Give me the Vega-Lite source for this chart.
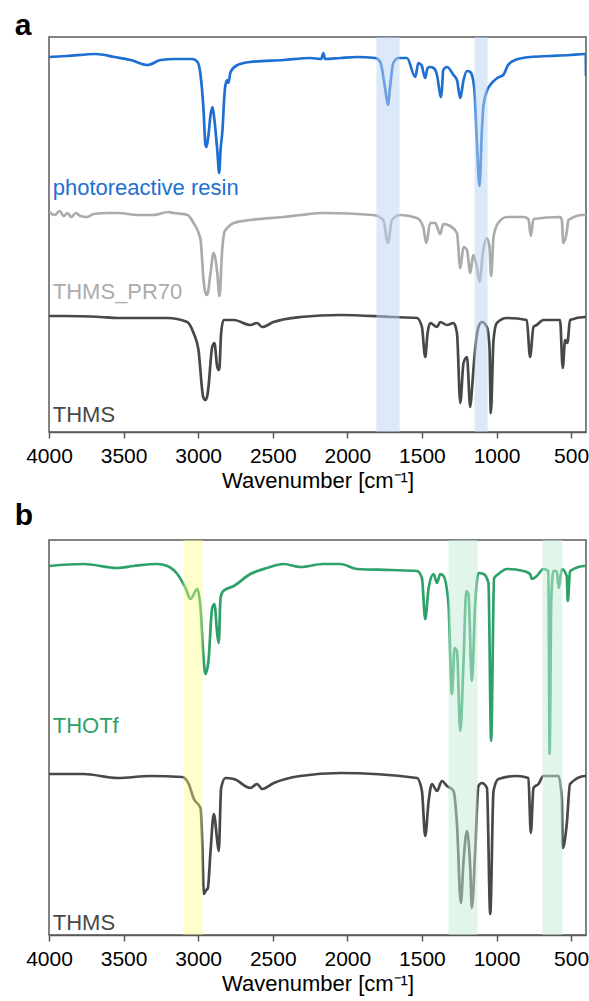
{
  "$schema": "https://vega.github.io/schema/vega-lite/v6.json",
  "background": "white",
  "padding": {"left": 13, "top": 10, "right": 3, "bottom": 5},
  "spacing": 8,
  "config": {
    "font": "Liberation Sans",
    "view": {"stroke": "#5a5a5a", "strokeWidth": 1.5},
    "axisX": {
      "grid": false,
      "tickSize": 6,
      "tickColor": "#5a5a5a",
      "tickWidth": 1.5,
      "domainColor": "#5a5a5a",
      "domainWidth": 1.5,
      "labelFontSize": 21,
      "labelColor": "black",
      "labelFlush": false,
      "labelOverlap": false,
      "labelPadding": 7,
      "titleFontSize": 22,
      "titleFontWeight": "normal",
      "titleColor": "black",
      "titlePadding": 4
    }
  },
  "datasets": {
    "specA": [
      {"s":"resin","w":4000,"v":375},{"s":"resin","w":3877,"v":376},{"s":"resin","w":3687,"v":378},{"s":"resin","w":3560,"v":375},{"s":"resin","w":3453,"v":372},{"s":"resin","w":3339,"v":367},{"s":"resin","w":3252,"v":372},{"s":"resin","w":3152,"v":373},{"s":"resin","w":3038,"v":373},{"s":"resin","w":3004,"v":370},{"s":"resin","w":2984,"v":357},{"s":"resin","w":2964,"v":322},{"s":"resin","w":2951,"v":287},{"s":"resin","w":2944,"v":285},{"s":"resin","w":2931,"v":297},{"s":"resin","w":2917,"v":317},{"s":"resin","w":2904,"v":325},{"s":"resin","w":2891,"v":312},{"s":"resin","w":2872,"v":282},{"s":"resin","w":2859,"v":259},{"s":"resin","w":2850,"v":282},{"s":"resin","w":2837,"v":302},{"s":"resin","w":2824,"v":337},{"s":"resin","w":2817,"v":347},{"s":"resin","w":2805,"v":352},{"s":"resin","w":2797,"v":349},{"s":"resin","w":2783,"v":360},{"s":"resin","w":2736,"v":367},{"s":"resin","w":2650,"v":370},{"s":"resin","w":2428,"v":372},{"s":"resin","w":2248,"v":374},{"s":"resin","w":2175,"v":373},{"s":"resin","w":2161,"v":379},{"s":"resin","w":2150,"v":373},{"s":"resin","w":2047,"v":374},{"s":"resin","w":1935,"v":375},{"s":"resin","w":1812,"v":374},{"s":"resin","w":1779,"v":370},{"s":"resin","w":1745,"v":342},{"s":"resin","w":1728,"v":327},{"s":"resin","w":1712,"v":347},{"s":"resin","w":1692,"v":369},{"s":"resin","w":1658,"v":374},{"s":"resin","w":1600,"v":374},{"s":"resin","w":1545,"v":355},{"s":"resin","w":1524,"v":369},{"s":"resin","w":1500,"v":366},{"s":"resin","w":1491,"v":360},{"s":"resin","w":1478,"v":354},{"s":"resin","w":1462,"v":364},{"s":"resin","w":1444,"v":365},{"s":"resin","w":1422,"v":364},{"s":"resin","w":1399,"v":357},{"s":"resin","w":1377,"v":337},{"s":"resin","w":1372,"v":335},{"s":"resin","w":1366,"v":342},{"s":"resin","w":1357,"v":362},{"s":"resin","w":1332,"v":365},{"s":"resin","w":1288,"v":357},{"s":"resin","w":1265,"v":352},{"s":"resin","w":1243,"v":334},{"s":"resin","w":1221,"v":352},{"s":"resin","w":1198,"v":361},{"s":"resin","w":1176,"v":360},{"s":"resin","w":1165,"v":357},{"s":"resin","w":1148,"v":342},{"s":"resin","w":1132,"v":292},{"s":"resin","w":1114,"v":246},{"s":"resin","w":1098,"v":302},{"s":"resin","w":1087,"v":327},{"s":"resin","w":1062,"v":342},{"s":"resin","w":1042,"v":347},{"s":"resin","w":995,"v":354},{"s":"resin","w":955,"v":357},{"s":"resin","w":922,"v":367},{"s":"resin","w":875,"v":372},{"s":"resin","w":775,"v":375},{"s":"resin","w":641,"v":376},{"s":"resin","w":507,"v":377},{"s":"resin","w":413,"v":378},{"s":"resin","w":402,"v":378},{"s":"resin","w":400,"v":356},

      {"s":"pr70","w":4000,"v":220},{"s":"pr70","w":3960,"v":217},{"s":"pr70","w":3930,"v":221},{"s":"pr70","w":3900,"v":216},{"s":"pr70","w":3877,"v":219},{"s":"pr70","w":3850,"v":215},{"s":"pr70","w":3820,"v":219},{"s":"pr70","w":3790,"v":216},{"s":"pr70","w":3743,"v":215},{"s":"pr70","w":3700,"v":218},{"s":"pr70","w":3600,"v":219},{"s":"pr70","w":3542,"v":219},{"s":"pr70","w":3400,"v":217},{"s":"pr70","w":3299,"v":217},{"s":"pr70","w":3200,"v":220},{"s":"pr70","w":3165,"v":219},{"s":"pr70","w":3071,"v":217},{"s":"pr70","w":3031,"v":209},{"s":"pr70","w":2984,"v":192},{"s":"pr70","w":2964,"v":152},{"s":"pr70","w":2951,"v":139},{"s":"pr70","w":2940,"v":137},{"s":"pr70","w":2917,"v":159},{"s":"pr70","w":2897,"v":179},{"s":"pr70","w":2872,"v":159},{"s":"pr70","w":2857,"v":136},{"s":"pr70","w":2839,"v":182},{"s":"pr70","w":2824,"v":200},{"s":"pr70","w":2805,"v":204},{"s":"pr70","w":2763,"v":209},{"s":"pr70","w":2650,"v":212},{"s":"pr70","w":2428,"v":215},{"s":"pr70","w":2315,"v":217},{"s":"pr70","w":2161,"v":219},{"s":"pr70","w":1826,"v":217},{"s":"pr70","w":1759,"v":212},{"s":"pr70","w":1728,"v":189},{"s":"pr70","w":1701,"v":212},{"s":"pr70","w":1645,"v":217},{"s":"pr70","w":1533,"v":214},{"s":"pr70","w":1491,"v":205},{"s":"pr70","w":1471,"v":189},{"s":"pr70","w":1444,"v":209},{"s":"pr70","w":1411,"v":209},{"s":"pr70","w":1377,"v":198},{"s":"pr70","w":1357,"v":208},{"s":"pr70","w":1310,"v":206},{"s":"pr70","w":1265,"v":199},{"s":"pr70","w":1243,"v":164},{"s":"pr70","w":1221,"v":185},{"s":"pr70","w":1198,"v":182},{"s":"pr70","w":1176,"v":159},{"s":"pr70","w":1156,"v":177},{"s":"pr70","w":1132,"v":165},{"s":"pr70","w":1114,"v":150},{"s":"pr70","w":1091,"v":180},{"s":"pr70","w":1064,"v":194},{"s":"pr70","w":1047,"v":185},{"s":"pr70","w":1036,"v":156},{"s":"pr70","w":1020,"v":195},{"s":"pr70","w":989,"v":209},{"s":"pr70","w":931,"v":215},{"s":"pr70","w":819,"v":215},{"s":"pr70","w":786,"v":213},{"s":"pr70","w":770,"v":196},{"s":"pr70","w":752,"v":213},{"s":"pr70","w":574,"v":215},{"s":"pr70","w":562,"v":212},{"s":"pr70","w":552,"v":189},{"s":"pr70","w":529,"v":200},{"s":"pr70","w":518,"v":212},{"s":"pr70","w":420,"v":217},{"s":"pr70","w":400,"v":217},

      {"s":"thms","w":4000,"v":116},{"s":"thms","w":3900,"v":116},{"s":"thms","w":3654,"v":115},{"s":"thms","w":3542,"v":114},{"s":"thms","w":3207,"v":114},{"s":"thms","w":3073,"v":110},{"s":"thms","w":3031,"v":99},{"s":"thms","w":2998,"v":82},{"s":"thms","w":2966,"v":35},{"s":"thms","w":2951,"v":32},{"s":"thms","w":2939,"v":36},{"s":"thms","w":2931,"v":45},{"s":"thms","w":2906,"v":85},{"s":"thms","w":2891,"v":89},{"s":"thms","w":2872,"v":65},{"s":"thms","w":2859,"v":62},{"s":"thms","w":2846,"v":99},{"s":"thms","w":2830,"v":112},{"s":"thms","w":2761,"v":112},{"s":"thms","w":2650,"v":107},{"s":"thms","w":2605,"v":109},{"s":"thms","w":2571,"v":105},{"s":"thms","w":2495,"v":110},{"s":"thms","w":2315,"v":115},{"s":"thms","w":2047,"v":117},{"s":"thms","w":1701,"v":115},{"s":"thms","w":1533,"v":114},{"s":"thms","w":1500,"v":105},{"s":"thms","w":1478,"v":75},{"s":"thms","w":1462,"v":99},{"s":"thms","w":1444,"v":109},{"s":"thms","w":1399,"v":105},{"s":"thms","w":1377,"v":110},{"s":"thms","w":1332,"v":107},{"s":"thms","w":1288,"v":109},{"s":"thms","w":1265,"v":99},{"s":"thms","w":1243,"v":29},{"s":"thms","w":1221,"v":69},{"s":"thms","w":1198,"v":75},{"s":"thms","w":1176,"v":25},{"s":"thms","w":1165,"v":42},{"s":"thms","w":1148,"v":75},{"s":"thms","w":1121,"v":105},{"s":"thms","w":1098,"v":110},{"s":"thms","w":1064,"v":105},{"s":"thms","w":1047,"v":85},{"s":"thms","w":1038,"v":19},{"s":"thms","w":1020,"v":92},{"s":"thms","w":998,"v":109},{"s":"thms","w":931,"v":114},{"s":"thms","w":797,"v":112},{"s":"thms","w":775,"v":75},{"s":"thms","w":752,"v":105},{"s":"thms","w":730,"v":107},{"s":"thms","w":685,"v":112},{"s":"thms","w":574,"v":112},{"s":"thms","w":556,"v":64},{"s":"thms","w":540,"v":92},{"s":"thms","w":525,"v":89},{"s":"thms","w":507,"v":112},{"s":"thms","w":406,"v":115},{"s":"thms","w":400,"v":115}
    ],
    "specB": [
      {"s":"thotf","w":4000,"v":369},{"s":"thotf","w":3768,"v":371},{"s":"thotf","w":3542,"v":367},{"s":"thotf","w":3433,"v":369},{"s":"thotf","w":3274,"v":371},{"s":"thotf","w":3207,"v":369},{"s":"thotf","w":3140,"v":361},{"s":"thotf","w":3085,"v":347},{"s":"thotf","w":3051,"v":336},{"s":"thotf","w":3006,"v":346},{"s":"thotf","w":2984,"v":327},{"s":"thotf","w":2966,"v":281},{"s":"thotf","w":2951,"v":261},{"s":"thotf","w":2931,"v":274},{"s":"thotf","w":2906,"v":327},{"s":"thotf","w":2891,"v":331},{"s":"thotf","w":2872,"v":301},{"s":"thotf","w":2862,"v":292},{"s":"thotf","w":2850,"v":337},{"s":"thotf","w":2832,"v":344},{"s":"thotf","w":2761,"v":349},{"s":"thotf","w":2650,"v":361},{"s":"thotf","w":2538,"v":367},{"s":"thotf","w":2428,"v":371},{"s":"thotf","w":2315,"v":368},{"s":"thotf","w":2161,"v":371},{"s":"thotf","w":2047,"v":371},{"s":"thotf","w":1935,"v":366},{"s":"thotf","w":1712,"v":365},{"s":"thotf","w":1533,"v":364},{"s":"thotf","w":1500,"v":357},{"s":"thotf","w":1478,"v":316},{"s":"thotf","w":1455,"v":347},{"s":"thotf","w":1422,"v":361},{"s":"thotf","w":1399,"v":352},{"s":"thotf","w":1377,"v":361},{"s":"thotf","w":1355,"v":359},{"s":"thotf","w":1322,"v":331},{"s":"thotf","w":1299,"v":241},{"s":"thotf","w":1281,"v":287},{"s":"thotf","w":1265,"v":284},{"s":"thotf","w":1243,"v":204},{"s":"thotf","w":1221,"v":274},{"s":"thotf","w":1203,"v":344},{"s":"thotf","w":1188,"v":341},{"s":"thotf","w":1165,"v":254},{"s":"thotf","w":1143,"v":331},{"s":"thotf","w":1121,"v":362},{"s":"thotf","w":1087,"v":361},{"s":"thotf","w":1054,"v":352},{"s":"thotf","w":1036,"v":194},{"s":"thotf","w":1016,"v":357},{"s":"thotf","w":987,"v":361},{"s":"thotf","w":931,"v":366},{"s":"thotf","w":819,"v":364},{"s":"thotf","w":775,"v":361},{"s":"thotf","w":763,"v":356},{"s":"thotf","w":730,"v":359},{"s":"thotf","w":685,"v":366},{"s":"thotf","w":652,"v":364},{"s":"thotf","w":644,"v":181},{"s":"thotf","w":633,"v":334},{"s":"thotf","w":619,"v":364},{"s":"thotf","w":596,"v":364},{"s":"thotf","w":583,"v":347},{"s":"thotf","w":562,"v":366},{"s":"thotf","w":529,"v":359},{"s":"thotf","w":522,"v":334},{"s":"thotf","w":507,"v":364},{"s":"thotf","w":406,"v":369},{"s":"thotf","w":400,"v":369},

      {"s":"thms","w":4000,"v":161},{"s":"thms","w":3768,"v":161},{"s":"thms","w":3542,"v":157},{"s":"thms","w":3319,"v":159},{"s":"thms","w":3107,"v":158},{"s":"thms","w":3063,"v":151},{"s":"thms","w":3029,"v":136},{"s":"thms","w":2984,"v":127},{"s":"thms","w":2973,"v":94},{"s":"thms","w":2962,"v":41},{"s":"thms","w":2950,"v":44},{"s":"thms","w":2935,"v":47},{"s":"thms","w":2917,"v":84},{"s":"thms","w":2895,"v":121},{"s":"thms","w":2872,"v":94},{"s":"thms","w":2862,"v":84},{"s":"thms","w":2846,"v":147},{"s":"thms","w":2817,"v":157},{"s":"thms","w":2761,"v":156},{"s":"thms","w":2650,"v":147},{"s":"thms","w":2605,"v":151},{"s":"thms","w":2571,"v":146},{"s":"thms","w":2493,"v":152},{"s":"thms","w":2315,"v":159},{"s":"thms","w":2047,"v":162},{"s":"thms","w":1533,"v":157},{"s":"thms","w":1500,"v":144},{"s":"thms","w":1478,"v":99},{"s":"thms","w":1455,"v":134},{"s":"thms","w":1433,"v":151},{"s":"thms","w":1399,"v":144},{"s":"thms","w":1366,"v":154},{"s":"thms","w":1332,"v":149},{"s":"thms","w":1288,"v":144},{"s":"thms","w":1265,"v":111},{"s":"thms","w":1239,"v":32},{"s":"thms","w":1221,"v":74},{"s":"thms","w":1198,"v":104},{"s":"thms","w":1176,"v":67},{"s":"thms","w":1165,"v":27},{"s":"thms","w":1143,"v":84},{"s":"thms","w":1121,"v":149},{"s":"thms","w":1098,"v":152},{"s":"thms","w":1064,"v":147},{"s":"thms","w":1042,"v":21},{"s":"thms","w":1020,"v":144},{"s":"thms","w":987,"v":156},{"s":"thms","w":864,"v":159},{"s":"thms","w":786,"v":157},{"s":"thms","w":770,"v":102},{"s":"thms","w":752,"v":147},{"s":"thms","w":719,"v":151},{"s":"thms","w":685,"v":159},{"s":"thms","w":585,"v":159},{"s":"thms","w":562,"v":137},{"s":"thms","w":556,"v":87},{"s":"thms","w":529,"v":111},{"s":"thms","w":507,"v":151},{"s":"thms","w":406,"v":159},{"s":"thms","w":400,"v":159}
    ],
    "bandsA": [{"w1":1805,"w2":1650},{"w1":1147,"w2":1060}],
    "bandsBy": [{"w1":3100,"w2":2970}],
    "bandsBg": [{"w1":1321,"w2":1127},{"w1":692,"w2":558}],
    "labA": [
      {"s":"resin","label":"photoreactive resin","w":3975,"v":237},
      {"s":"pr70","label":"THMS_PR70","w":3975,"v":133},
      {"s":"thms","label":"THMS","w":3975,"v":10}
    ],
    "labB": [
      {"s":"thotf","label":"THOTf","w":3975,"v":202},
      {"s":"thms","label":"THMS","w":3975,"v":5}
    ]
  },
  "vconcat": [
    {
      "width": 537,
      "height": 395,
      "title": {"text": "a", "anchor": "start", "fontSize": 30, "fontWeight": "bold", "baseline": "alphabetic", "offset": -28, "dx": -11, "color": "black"},
      "layer": [
        {
          "data": {"name": "specA"},
          "mark": {"type": "line", "strokeWidth": 2.7, "interpolate": "monotone", "clip": true},
          "encoding": {
            "x": {"field": "w", "type": "quantitative", "scale": {"domain": [4000, 400], "nice": false, "zero": false}, "axis": {"title": "Wavenumber [cm⁻¹]", "values": [4000, 3500, 3000, 2500, 2000, 1500, 1000, 500], "format": "d"}},
            "y": {"field": "v", "type": "quantitative", "scale": {"domain": [0, 395], "nice": false, "zero": false}, "axis": null},
            "color": {"field": "s", "type": "nominal", "scale": {"domain": ["resin", "pr70", "thms", "thotf"], "range": ["#1E6FD2", "#ABABAB", "#484848", "#2EA168"]}, "legend": null}
          }
        },
        {
          "data": {"name": "bandsA"},
          "mark": {"type": "rect", "color": "#B9D3F1", "opacity": 0.5},
          "encoding": {"x": {"field": "w1", "type": "quantitative"}, "x2": {"field": "w2"}}
        },
        {
          "data": {"name": "labA"},
          "mark": {"type": "text", "align": "left", "baseline": "alphabetic", "fontSize": 22},
          "encoding": {
            "x": {"field": "w", "type": "quantitative"},
            "y": {"field": "v", "type": "quantitative"},
            "text": {"field": "label"},
            "color": {"field": "s", "type": "nominal", "legend": null}
          }
        }
      ]
    },
    {
      "width": 537,
      "height": 395,
      "title": {"text": "b", "anchor": "start", "fontSize": 30, "fontWeight": "bold", "baseline": "alphabetic", "offset": -15, "dx": -11, "color": "black"},
      "layer": [
        {
          "data": {"name": "specB"},
          "mark": {"type": "line", "strokeWidth": 2.7, "interpolate": "monotone", "clip": true},
          "encoding": {
            "x": {"field": "w", "type": "quantitative", "scale": {"domain": [4000, 400], "nice": false, "zero": false}, "axis": {"title": "Wavenumber [cm⁻¹]", "values": [4000, 3500, 3000, 2500, 2000, 1500, 1000, 500], "format": "d"}},
            "y": {"field": "v", "type": "quantitative", "scale": {"domain": [0, 395], "nice": false, "zero": false}, "axis": null},
            "color": {"field": "s", "type": "nominal", "scale": {"domain": ["resin", "pr70", "thms", "thotf"], "range": ["#1E6FD2", "#ABABAB", "#484848", "#2EA168"]}, "legend": null}
          }
        },
        {
          "data": {"name": "bandsBy"},
          "mark": {"type": "rect", "color": "#FFFF82", "opacity": 0.4},
          "encoding": {"x": {"field": "w1", "type": "quantitative"}, "x2": {"field": "w2"}}
        },
        {
          "data": {"name": "bandsBg"},
          "mark": {"type": "rect", "color": "#C3EBD7", "opacity": 0.5},
          "encoding": {"x": {"field": "w1", "type": "quantitative"}, "x2": {"field": "w2"}}
        },
        {
          "data": {"name": "labB"},
          "mark": {"type": "text", "align": "left", "baseline": "alphabetic", "fontSize": 22},
          "encoding": {
            "x": {"field": "w", "type": "quantitative"},
            "y": {"field": "v", "type": "quantitative"},
            "text": {"field": "label"},
            "color": {"field": "s", "type": "nominal", "legend": null}
          }
        }
      ]
    }
  ]
}
